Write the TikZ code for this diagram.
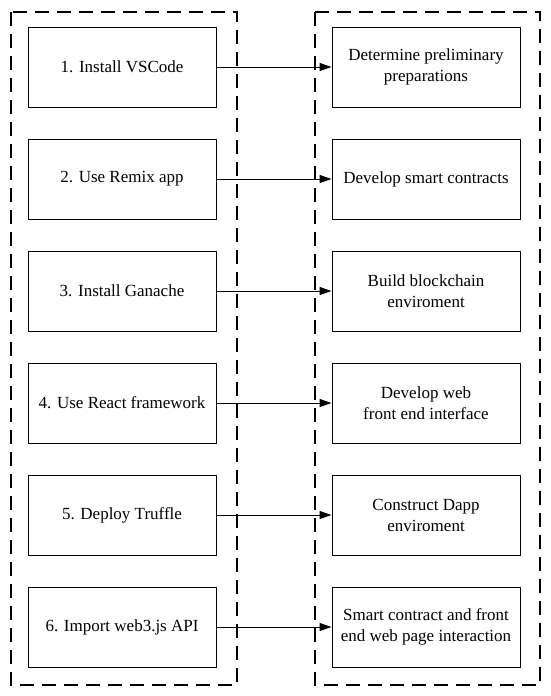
\documentclass[tikz,border=0pt]{standalone}
\usepackage{fontspec}
\setmainfont{Liberation Serif}
\usetikzlibrary{arrows.meta}
\begin{document}
\begin{tikzpicture}[x=1pt,y=-1pt,
  stepbox/.style={draw,line width=1pt,minimum width=188pt,minimum height=80pt,align=center,font=\rmfamily\fontsize{17}{21}\selectfont,inner sep=2pt},
  group/.style={draw,line width=1.3pt,dash pattern=on 14pt off 8pt},
  conn/.style={line width=1pt,-{Triangle[length=12pt,width=8pt]}}]
\useasboundingbox (0,0) rectangle (550,696);
\draw[group] (11,12) rectangle (237,685);
\draw[group] (315,12) rectangle (540,685);
\foreach \i/\l/\r in {1/{1. Install VSCode}/{Determine preliminary\\preparations},
  2/{2. Use Remix app}/{Develop smart contracts},
  3/{3. Install Ganache}/{Build blockchain\\enviroment},
  4/{4. Use React framework}/{Develop web\\front end interface},
  5/{5. Deploy Truffle}/{Construct Dapp\\enviroment},
  6/{6. Import web3.js API}/{Smart contract and front\\end web page interaction}}{
  \node[stepbox] (L\i) at (122,{67+112*(\i-1)}) {\l};
  \node[stepbox] (R\i) at (426,{67+112*(\i-1)}) {\r};
  \draw[conn] (L\i) -- (R\i);
}
\end{tikzpicture}
\end{document}
